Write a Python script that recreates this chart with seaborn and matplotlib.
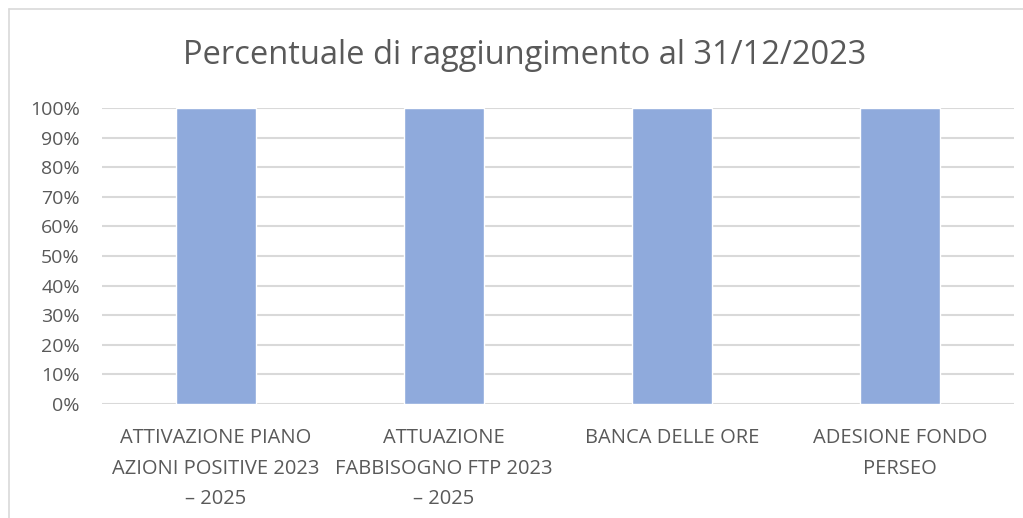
import matplotlib
matplotlib.use("Agg")
import matplotlib.pyplot as plt
import matplotlib.ticker as mticker
from matplotlib.lines import Line2D
import seaborn as sns
import pandas as pd

# data
categories = [
    "ATTIVAZIONE PIANO\nAZIONI POSITIVE 2023\n\u2013 2025",
    "ATTUAZIONE\nFABBISOGNO FTP 2023\n\u2013 2025",
    "BANCA DELLE ORE",
    "ADESIONE FONDO\nPERSEO",
]
percent_reached = [1.0, 1.0, 1.0, 1.0]
y_ticks = [i / 10 for i in range(11)]
title = "Percentuale di raggiungimento al 31/12/2023"

sns.set_style("white")
plt.rcParams['font.family'] = ['Open Sans', 'DejaVu Sans']

df = pd.DataFrame({'Obiettivo': categories, 'Percentuale': percent_reached})

fig = plt.figure(figsize=(10.23, 5.18), dpi=100)
ax = fig.add_axes([102 / 1023, 1 - 404 / 518, 912 / 1023, 296 / 518])

sns.barplot(data=df, x='Obiettivo', y='Percentuale', color='#8faadc',
            width=0.35, saturation=1, ax=ax, zorder=3)

ax.set_ylim(0, 1)
ax.set_xlim(-0.5, len(categories) - 0.5)
ax.set_yticks(y_ticks)
ax.yaxis.set_major_formatter(mticker.PercentFormatter(1.0, decimals=0))
ax.grid(axis='y', color='#d9d9d9', linewidth=1.5, zorder=0)
ax.set_axisbelow(True)
for s in ax.spines.values():
    s.set_visible(False)
ax.set_xlabel('')
ax.set_ylabel('')
ax.tick_params(axis='y', length=0, colors='#595959', labelsize=14, pad=16)
ax.tick_params(axis='x', length=0, colors='#595959', labelsize=14.5, pad=17.5)
for lbl in ax.get_xticklabels():
    lbl.set_linespacing(1.7)

fig.text(525 / 1023, 1 - 56 / 518, title, ha='center', va='center',
         fontsize=23.5, color='#595959')

# chart frame (top and left edges visible in the crop)
fig.add_artist(Line2D([9 / 1023, 1], [1 - 9 / 518, 1 - 9 / 518],
                      transform=fig.transFigure, color='#d9d9d9', lw=1.2))
fig.add_artist(Line2D([9 / 1023, 9 / 1023], [0, 1 - 9 / 518],
                      transform=fig.transFigure, color='#d9d9d9', lw=1.2))

plt.savefig('out.png', dpi=100)
